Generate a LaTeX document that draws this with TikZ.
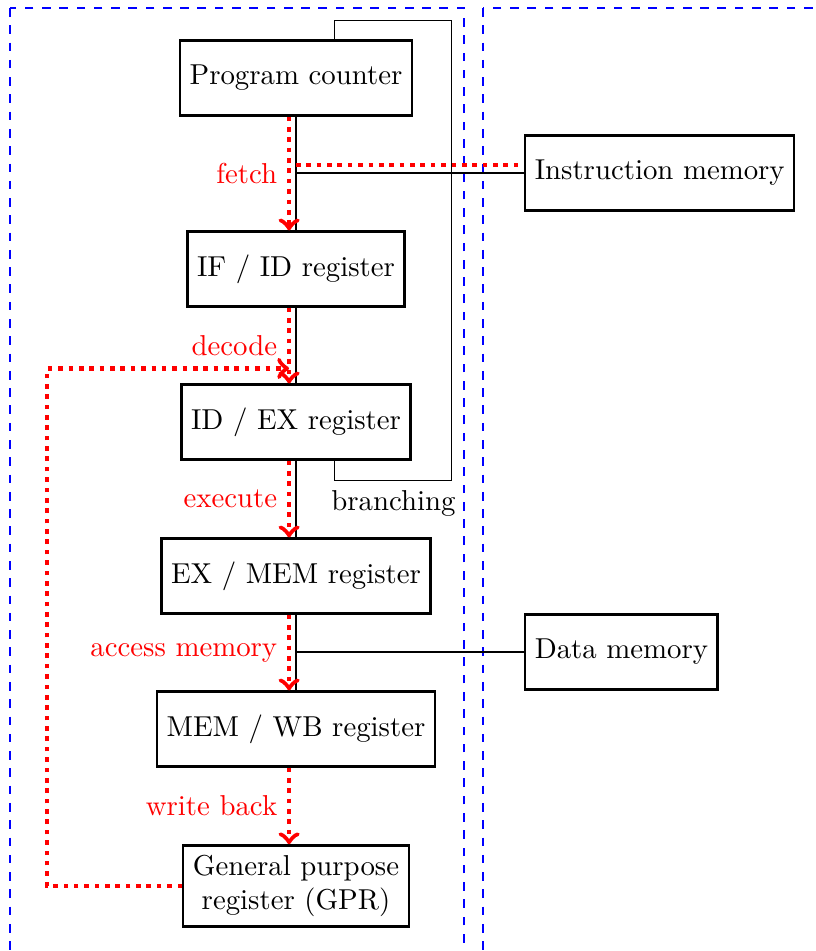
\documentclass[tikz,border=0pt]{standalone}
\begin{document}
\begin{tikzpicture}[x=0.3472pt, y=-0.3472pt,
  stage/.style={draw, thick, minimum height=26pt, inner sep=3.33pt},
  flow/.style={red, dotted, ultra thick, ->},
  tapline/.style={red, dotted, ultra thick},
  wire/.style={draw, line width=0.4pt},
  region/.style={blue, dashed, line width=0.4pt}]
\useasboundingbox (0,0) rectangle (815,951);
\clip (0,0) rectangle (815,951);

% processor side and memory side
\draw[region] (10,8) rectangle (464,1000);
\draw[region] (483,8) rectangle (900,1000);

% pipeline stages
\node[stage] (pc)    at (296,78)  {Program counter};
\node[stage] (ifid)  at (296,269) {IF / ID register};
\node[stage] (idex)  at (296,422) {ID / EX register};
\node[stage] (exmem) at (296,576) {EX / MEM register};
\node[stage] (memwb) at (296,729) {MEM / WB register};
\node[stage, align=center] (gpr) at (296,886) {General purpose\\register (GPR)};

% memories
\node[stage, anchor=west] (imem) at (524,173) {Instruction memory};
\node[stage, anchor=west] (dmem) at (524,652) {Data memory};

% datapath wires
\draw[wire] (pc) -- (ifid);
\draw[wire] (ifid) -- (idex);
\draw[wire] (idex) -- (exmem);
\draw[wire] (exmem) -- (memwb);
\coordinate (ftap) at (pc.south |- imem.west);
\coordinate (dtap) at (exmem.south |- dmem.west);
\draw[wire] (ftap) -- (imem.west);
\draw[wire] (dtap) -- (dmem.west);

% branch feedback to the program counter
\draw[wire] ([xshift=13.5pt]idex.south) -- ++(0,20) -- ++(117,0)
  node[midway, below, text=black] {branching}
  -- ++(0,-460) -- ++(-117,0) -- ([xshift=13.5pt]pc.north);

% instruction flow
\draw[flow] ([xshift=-2.4pt]pc.south) -- node[left] {fetch} ([xshift=-2.4pt]ifid.north);
\draw[tapline] ([yshift=2.8pt]ftap) -- ([yshift=2.8pt]imem.west);
\draw[flow] ([xshift=-2.4pt]ifid.south) -- node[left] {decode} ([xshift=-2.4pt]idex.north);
\draw[flow] ([xshift=-2.4pt]idex.south) -- node[left] {execute} ([xshift=-2.4pt]exmem.north);
\draw[flow] ([xshift=-2.4pt]exmem.south) -- node[left] {access memory} ([xshift=-2.4pt]memwb.north);
\draw[flow] ([xshift=-2.4pt]memwb.south) -- node[left] {write back} ([xshift=-2.4pt]gpr.north);

% register file read back into decode
\coordinate (loopend) at ([xshift=-2.4pt, yshift=5.2pt]idex.north);
\draw[flow] (gpr.west) -- ++(-135,0) |- (loopend);
\end{tikzpicture}
\end{document}
